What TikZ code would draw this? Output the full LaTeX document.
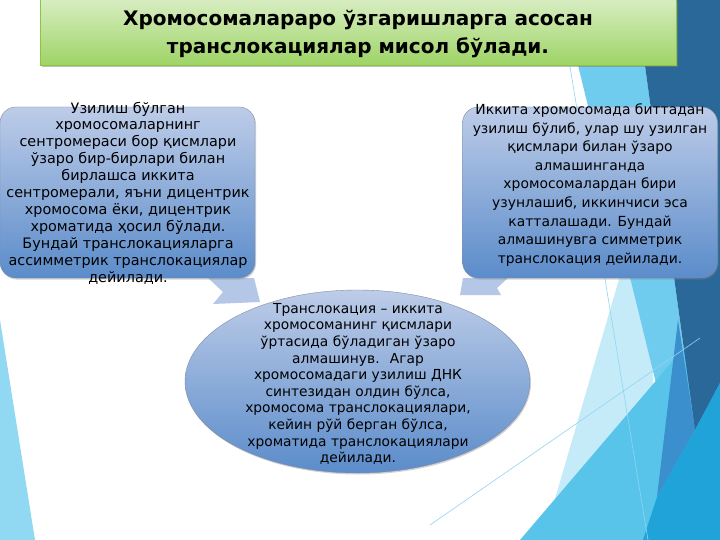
\documentclass[tikz,border=0pt]{standalone}
\usepackage{fontspec}
\setmainfont{DejaVu Sans}
\usetikzlibrary{shapes.geometric,shadows}
\usetikzlibrary{positioning}
\definecolor{boxtop}{HTML}{BDCCE8}
\definecolor{boxbot}{HTML}{5B8CCA}
\definecolor{boxline}{HTML}{7F8DA3}
\definecolor{titletop}{HTML}{D8EDC2}
\definecolor{titlebot}{HTML}{9ED466}
\definecolor{titleline}{HTML}{8CC63F}
\definecolor{arrowfill}{HTML}{B4C7E7}
\definecolor{darkblue}{HTML}{2A6899}
\definecolor{skyblue}{HTML}{6FCCEE}
\definecolor{paleblue}{HTML}{C6EBF8}
\definecolor{midblue}{HTML}{3B8FCC}
\definecolor{cyanblue}{HTML}{58C4EA}
\definecolor{deepcyan}{HTML}{1FA3D9}
\definecolor{leftblue}{HTML}{91D9F3}
\definecolor{thinblue}{HTML}{8FD6F2}

\begin{document}
\begin{tikzpicture}[x=1pt,y=-1pt,
infobox/.style={rectangle, rounded corners=16pt, draw=boxline, top color=boxtop, bottom color=boxbot,
minimum width=255pt, minimum height=171pt, inner sep=0pt,
drop shadow={opacity=.35,shadow xshift=1pt,shadow yshift=-1.5pt},
},
infoellipse/.style={ellipse, draw=boxline, top color=boxtop, bottom color=boxbot,
minimum width=345pt, minimum height=183pt, inner sep=0pt,
drop shadow={opacity=.35,shadow xshift=1pt,shadow yshift=-1.5pt},
},
titlebox/.style={rectangle, draw=titleline, top color=titletop, bottom color=titlebot,
minimum width=636pt, minimum height=66pt, inner sep=0pt,
drop shadow={opacity=.5,shadow xshift=2pt,shadow yshift=-2pt},
},
bodytext/.style={align=center, inner sep=0pt, text=black},
pointer/.style={fill=arrowfill, draw=none},
]
\useasboundingbox (0,0) rectangle (720,540);
\fill[white] (0,0) rectangle (720,540);
%Background
\fill[leftblue] (0,320) -- (35,540) -- (0,540) -- cycle;
\fill[paleblue] (543,540) -- (645,190) -- (660,540) -- cycle;
\fill[skyblue] (562,0) -- (636,0) -- (695,430) -- (665,420) -- cycle;
\fill[cyanblue] (520,540) -- (695,335) -- (720,383) -- (720,540) -- cycle;
\fill[midblue] (678,320) -- (695,430) -- (657,497) -- cycle;
\fill[darkblue] (636,0) -- (720,0) -- (720,383) -- (695,430) -- cycle;
\fill[deepcyan] (643,540) -- (657,497) -- (695,430) -- (720,383) -- (720,540) -- cycle;
\draw[thinblue, line width=0.6pt] (559,0) -- (648,540);
\draw[thinblue, line width=0.6pt] (430,525) -- (700,338);
%Pointers
\fill[pointer] (208,278) -- (254,278) -- (260,302) -- (213,304) -- (223,292) -- cycle;
\fill[pointer] (463,278) -- (508,278) -- (497,288) -- (501,295) -- (460,295) -- cycle;
%Nodes
\node[infobox]     (leftbox)   at (127.5,192.5) {};
\node[infobox]     (rightbox)  at (590,192.5) {};
\node[infoellipse] (centre)    at (357.5,381.5) {};
\node[titlebox]    (title)     at (358,32) {};
\node[bodytext, font=\fontsize{14.4}{16.9}\selectfont] (lefttxt) at (128,193) {Узилиш бўлган\\хромосомаларнинг\\сентромераси бор қисмлари\\ўзаро бир-бирлари билан\\бирлашса иккита\\сентромерали, яъни дицентрик\\хромосома ёки, дицентрик\\хроматида ҳосил бўлади.\\Бундай транслокацияларга\\ассимметрик транслокациялар\\дейилади.};
\node[bodytext, font=\fontsize{13.9}{18.6}\selectfont] (righttxt) at (590,185) {Иккита хромосомада биттадан\\узилиш бўлиб, улар шу узилган\\қисмлари билан ўзаро\\алмашинганда\\хромосомалардан бири\\узунлашиб, иккинчиси эса\\катталашади. Бундай\\алмашинувга симметрик\\транслокация дейилади.};
\node[bodytext, font=\fontsize{13.8}{16.6}\selectfont] (centretxt) at (358,384) {Транслокация – иккита\\хромосоманинг қисмлари\\ўртасида бўладиган ўзаро\\алмашинув.~ Агар\\хромосомадаги узилиш ДНК\\синтезидан олдин бўлса,\\хромосома транслокациялари,\\кейин рўй берган бўлса,\\хроматида транслокациялари\\дейилади.};
\node[bodytext, font=\bfseries\fontsize{20}{28}\selectfont] (titletxt) at ([yshift=-2.5pt]title.center) {Хромосомалараро ўзгаришларга асосан\\транслокациялар мисол бўлади.};
\end{tikzpicture}
\end{document}
